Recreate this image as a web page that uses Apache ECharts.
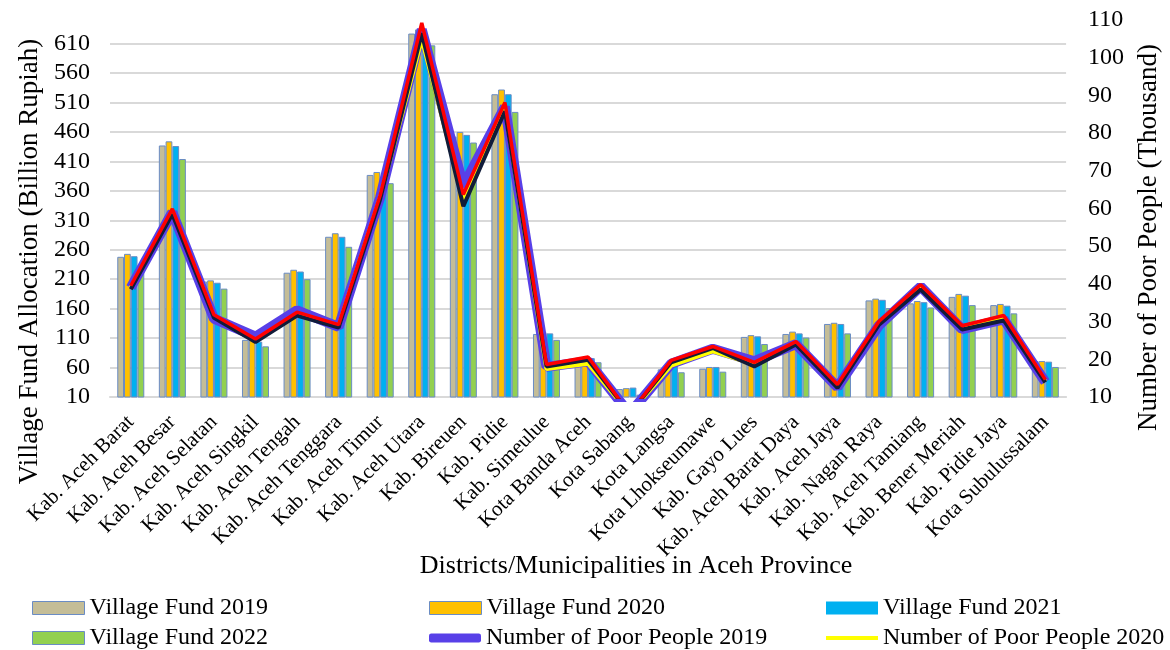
<!DOCTYPE html>
<html>
<head>
<meta charset="utf-8">
<script src="https://cdn.jsdelivr.net/npm/echarts@6/dist/echarts.min.js"></script>
<style>
  html, body { margin: 0; padding: 0; background: #fff; }
  #main { width: 1170px; height: 650px; }
</style>
</head>
<body>
<div id="main"></div>
<script>
var categories = ['Kab. Aceh Barat', 'Kab. Aceh Besar', 'Kab. Aceh Selatan', 'Kab. Aceh Singkil', 'Kab. Aceh Tengah',
    'Kab. Aceh Tenggara', 'Kab. Aceh Timur', 'Kab. Aceh Utara', 'Kab. Bireuen', 'Kab. Pidie', 'Kab. Simeulue',
    'Kota Banda Aceh', 'Kota Sabang', 'Kota Langsa', 'Kota Lhokseumawe', 'Kab. Gayo Lues', 'Kab. Aceh Barat Daya',
    'Kab. Aceh Jaya', 'Kab. Nagan Raya', 'Kab. Aceh Tamiang', 'Kab. Bener Meriah', 'Kab. Pidie Jaya', 'Kota Subulussalam'];

// village fund, billion rupiah (left axis)
var fund2019 = [248, 437, 206, 107, 221, 282, 387, 627, 452, 524, 117, 66, 23.5, 57, 58, 112, 117, 134, 174, 169, 180, 166, 71];
var fund2020 = [253, 444, 208, 108, 226, 288, 392, 634, 460, 532, 120, 70, 25, 60, 61, 115, 121, 136, 177, 173, 185, 168, 71];
var fund2021 = [249, 436, 204, 104, 223, 282, 384, 621, 455, 524, 118, 76, 26, 64, 61, 113, 118, 134, 175, 171, 182, 165, 70];
var fund2022 = [234, 414, 194, 96, 210, 265, 373, 607, 442, 494, 107, 69, 14, 52, 53, 100, 111, 118, 161, 162, 166, 152, 61];

// number of poor people, thousand (right axis)
var poor2019 = [39.0, 59.0, 30.8, 26.0, 33.0, 28.6, 63.0, 107.5, 66.0, 87.0, 18.0, 19.5, 5.6, 18.8, 22.8, 19.5, 24.0, 12.6, 29.0, 39.3, 28.0, 30.6, 14.0];
var poor2020 = [39.0, 59.3, 31.3, 25.0, 32.0, 28.8, 63.0, 104.8, 62.3, 86.5, 17.4, 18.8, 5.6, 18.3, 22.1, 18.6, 24.2, 12.8, 29.6, 39.2, 28.3, 31.0, 14.1];
var poor2021 = [38.6, 58.5, 31.0, 24.6, 31.6, 28.4, 62.5, 106.5, 60.6, 85.8, 18.1, 19.9, 5.6, 19.2, 23.0, 18.1, 23.9, 12.4, 29.2, 38.5, 27.9, 30.3, 13.9];
var poor2022 = [39.5, 59.9, 31.8, 25.4, 32.5, 29.2, 63.5, 109.2, 63.7, 88.1, 18.6, 20.6, 5.6, 19.7, 23.4, 19.2, 24.7, 13.3, 30.1, 39.8, 28.9, 31.6, 14.6];

var fontName = 'Liberation Serif';
var barBorder = '#6a8cc4';

function barSeries(name, data, color) {
    return {
        name: name, type: 'bar', data: data, yAxisIndex: 0,
        barGap: '0%', barCategoryGap: '35%',
        itemStyle: { color: color, borderColor: barBorder, borderWidth: 1 }
    };
}
function lineSeries(name, data, color, width) {
    return {
        name: name, type: 'line', data: data, yAxisIndex: 1,
        symbol: 'none', clip: true,
        lineStyle: { color: color, width: width },
        itemStyle: { color: color }
    };
}

// one legend per item so the three columns line up like the original
function legendItem(name, left, top, icon, h, style) {
    return {
        left: left, top: top, itemWidth: 52, itemHeight: h, itemGap: 0,
        icon: icon,
        textStyle: { fontFamily: fontName, fontSize: 24, color: '#000' },
        itemStyle: style,
        data: [name]
    };
}

var myChart = echarts.init(document.getElementById('main'));
var option = {
    animation: false,
    textStyle: { fontFamily: fontName },
    grid: { left: 110, right: 100, top: 20, bottom: 253 },
    legend: [
        legendItem('Village Fund 2019', 27, 591, 'rect', 13, { borderColor: barBorder, borderWidth: 1 }),
        legendItem('Village Fund 2022', 27, 621, 'rect', 13, { borderColor: barBorder, borderWidth: 1 }),
        legendItem('Village Fund 2020', 424, 591, 'rect', 13, { borderColor: barBorder, borderWidth: 1 }),
        legendItem('Number of Poor People 2019', 424, 621, 'roundRect', 9, { borderWidth: 0 }),
        legendItem('Village Fund 2021', 821, 591, 'rect', 13, { borderWidth: 0 }),
        legendItem('Number of Poor People 2020', 821, 621, 'rect', 4, { borderWidth: 0 })
    ],
    xAxis: {
        type: 'category',
        data: categories,
        name: 'Districts/Municipalities in Aceh Province',
        nameLocation: 'middle',
        nameGap: 156,
        nameMoveOverlap: false,
        nameTextStyle: { fontFamily: fontName, fontSize: 26, color: '#000', padding: [0, 0, 0, 96] },
        axisLine: { lineStyle: { color: '#d9d9d9', width: 2 } },
        axisTick: { show: false },
        axisLabel: { interval: 0, rotate: 45, margin: 22, fontFamily: fontName, fontSize: 21, color: '#000' }
    },
    yAxis: [
        {
            type: 'value', min: 10, max: 650, interval: 10,
            name: 'Village Fund Allocation (Billion Rupiah)',
            nameLocation: 'middle', nameRotate: 90, nameGap: 60,
            nameTextStyle: { fontFamily: fontName, fontSize: 27, color: '#000', padding: [0, 106, 0, 0] },
            axisLine: { show: false }, axisTick: { show: false },
            axisLabel: {
                margin: 20, fontFamily: fontName, fontSize: 24, color: '#000',
                formatter: function (v) { return (v - 10) % 50 === 0 && v <= 610 ? String(v) : ''; }
            },
            splitLine: {
                show: true,
                lineStyle: { color: ['#d9d9d9', 'rgba(0,0,0,0)', 'rgba(0,0,0,0)', 'rgba(0,0,0,0)', 'rgba(0,0,0,0)'], width: 2 }
            }
        },
        {
            type: 'value', min: 10, max: 110, interval: 10, position: 'right',
            name: 'Number of Poor People (Thousand)',
            nameLocation: 'middle', nameRotate: 90, nameGap: 66,
            nameTextStyle: { fontFamily: fontName, fontSize: 27, color: '#000', padding: [0, 58, 0, 0] },
            axisLine: { show: false }, axisTick: { show: false },
            axisLabel: { margin: 22, fontFamily: fontName, fontSize: 24, color: '#000' },
            splitLine: { show: false }
        }
    ],
    series: [
        barSeries('Village Fund 2019', fund2019, '#c4bd97'),
        barSeries('Village Fund 2020', fund2020, '#ffc000'),
        barSeries('Village Fund 2021', fund2021, '#00b0f0'),
        barSeries('Village Fund 2022', fund2022, '#92d050'),
        lineSeries('Number of Poor People 2019', poor2019, '#5840e8', 10),
        lineSeries('Number of Poor People 2020', poor2020, '#ffff00', 4),
        lineSeries('Number of Poor People 2021', poor2021, '#111c3a', 4),
        lineSeries('Number of Poor People 2022', poor2022, '#ff0000', 3.5)
    ]
};
myChart.setOption(option);
</script>
</body>
</html>
